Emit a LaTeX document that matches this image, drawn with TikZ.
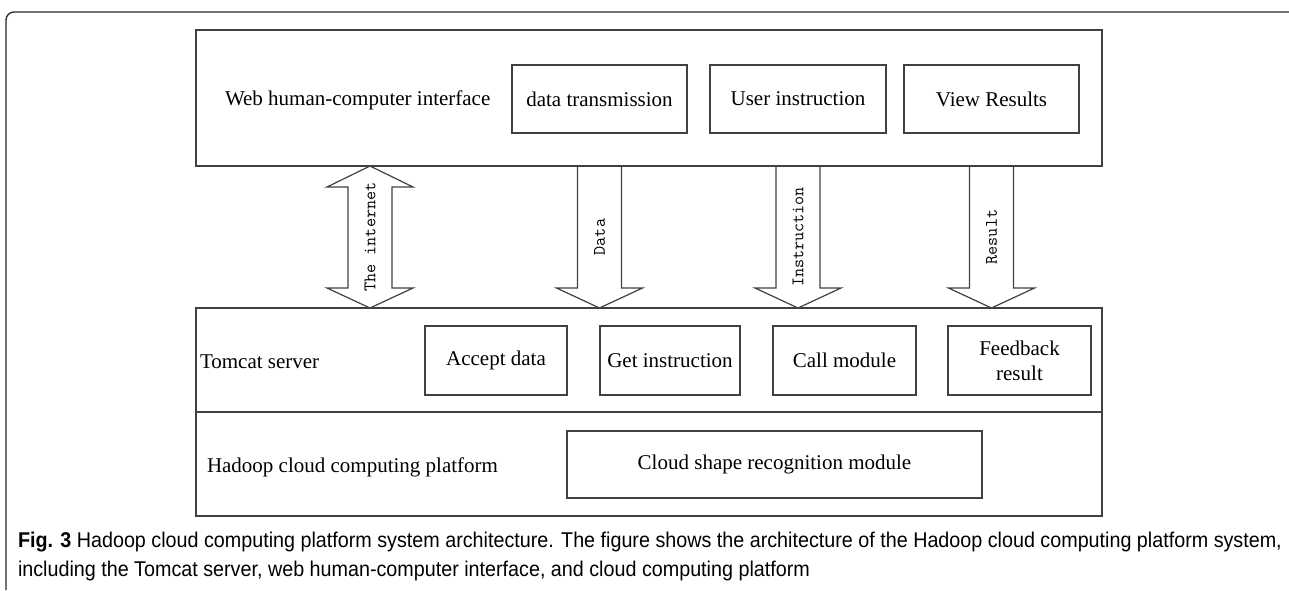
\documentclass[tikz,border=0pt]{standalone}
\usepackage{fontspec}
\setmainfont{Liberation Serif}
\newfontfamily\capfont[FakeStretch=0.925]{Liberation Sans}
\usetikzlibrary{positioning}
\usetikzlibrary{calc}
\definecolor{lgray}{rgb}{0.25, 0.25, 0.25}
\def\pu{0.75pt}
\newcommand{\downblock}[3]{%
  \draw [blockarrow] ($(#1)+(-22,0)$) -- ($(#2)+(-22,-20)$) -- ($(#2)+(-43,-20)$)
    -- (#2) -- ($(#2)+(43,-20)$) -- ($(#2)+(22,-20)$) -- ($(#1)+(22,0)$);
  \node [arrlbl] at ($(#1)!0.5!(#2)$) {#3};}

\begin{document}
\begin{tikzpicture}[x=0.75pt, y=-0.75pt,
    every node/.style={inner sep=0pt, outer sep=0pt},
    wh/.style 2 args={minimum width=#1*\pu, minimum height=#2*\pu},
    layer/.style={draw=lgray, line width=1.1pt, anchor=north west},
    unit/.style={draw=lgray, line width=0.9pt, anchor=north west, align=center,
      font=\fontsize{15.75}{18}\selectfont},
    lbl/.style={anchor=west, font=\fontsize{15.75}{18}\selectfont},
    arrlbl/.style={rotate=90, font=\ttfamily\fontsize{13.2}{15}\selectfont},
    captxt/.style={anchor=base west, font=\capfont\fontsize{16}{21}\selectfont},
    blockarrow/.style={draw=lgray, line width=0.9pt, line join=miter}]
  \useasboundingbox (0,0) rectangle (1289,590);

  % frame of the figure
  \draw [black!85, line width=1pt, rounded corners=6pt] (1289,12) -- (6,12) -- (6,590);

  % three layers
  \node [layer, wh={906}{136}] (web) at (196,30) {};
  \node [layer, wh={906}{104}] (tomcat) at (196,308) {};
  \node [layer, wh={906}{104}] (hadoop) at (196,412) {};

  \node [lbl] (webtxt) at ($(web.west)+(29,2)$) {Web human-computer interface};
  \node [lbl] (tomtxt) at ($(tomcat.west)+(4,2)$) {Tomcat server};
  \node [lbl] (hadtxt) at ($(hadoop.west)+(11,3)$) {Hadoop cloud computing platform};

  % web interface
  \node [unit, wh={175}{68}] (trans) at (512,65) {data transmission};
  \node [unit, wh={176}{68}] (instr) at (710,65) {User instruction};
  \node [unit, wh={175}{68}] (view) at (904,65) {View Results};

  % tomcat server
  \node [unit, wh={142}{69}] (accept) at (425,326) {Accept data};
  \node [unit, wh={140}{69}] (getins) at (600,326) {Get instruction};
  \node [unit, wh={143}{69}] (call) at (773,326) {Call module};
  \node [unit, wh={143}{69}] (feed) at (948,326) {Feedback\\[1pt]result};

  % hadoop
  \node [unit, wh={415}{67}] (cloud) at (567,431) {Cloud shape recognition module};

  % arrows between web and tomcat
  \coordinate (nettop) at ($(web.south west)+(174,0)$);
  \coordinate (netbot) at ($(tomcat.north west)+(174,0)$);
  \draw [blockarrow] (nettop) -- ++(43,21) -- ++(-21,0) -- ($(netbot)+(22,-20)$)
    -- ++(21,0) -- (netbot) -- ++(-43,-20) -- ++(21,0) -- ($(nettop)+(-22,21)$)
    -- ++(-21,0) -- cycle;
  \node [arrlbl] (netlbl) at ($(nettop)!0.5!(netbot)$) {The internet};

  \coordinate (datatop) at (trans.south |- web.south);
  \coordinate (databot) at (trans.south |- tomcat.north);
  \downblock{datatop}{databot}{Data}

  \coordinate (instop) at (instr.south |- web.south);
  \coordinate (insbot) at (instr.south |- tomcat.north);
  \downblock{instop}{insbot}{Instruction}

  \coordinate (restop) at (view.south |- web.south);
  \coordinate (resbot) at (view.south |- tomcat.north);
  \downblock{restop}{resbot}{Result}

  % caption
  \node [captxt] (cap1) at (18,547)
    {\textbf{Fig. 3} Hadoop cloud computing platform system architecture. The figure shows the architecture of the Hadoop cloud computing platform system,};
  \node [captxt] (cap2) at (18,576)
    {including the Tomcat server, web human-computer interface, and cloud computing platform};
\end{tikzpicture}
\end{document}
